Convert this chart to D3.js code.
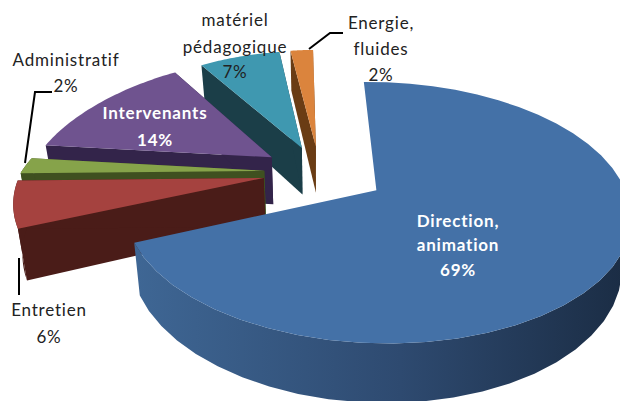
<!DOCTYPE html>
<html>
<head>
<meta charset="utf-8">
<script src="https://cdn.jsdelivr.net/npm/d3@7"></script>
<style>
html, body { margin: 0; padding: 0; background: #fff; }
text { font-family: Lato, "Open Sans", sans-serif; text-anchor: middle; letter-spacing: 0.8px; }
</style>
</head>
<body>
<div id="chart"></div>
<script>
const categories = ['Direction, animation', 'Entretien', 'Administratif', 'Intervenants', 'matériel pédagogique', 'Energie, fluides'];
const values = [69, 6, 2, 14, 7, 2];
const topColors = ['#4471a7', '#a5423f', '#86a34a', '#6f538f', '#3f98b0', '#db843d'];
const sideColors = ['#2f4c73', '#4a1c18', '#3f5020', '#33244a', '#1b3e48', '#6a3c14'];
const explode = [0.27, 0.235, 0.23, 0.24, 0.22, 0.22];

const width = 620;
const height = 401;
const centerX = 320;
const centerY = 172;
const radius = 243;
const tilt = 120.7;
const camera = 5.95;
const depth = 48;

const svg = d3.select('#chart')
    .append('svg')
    .attr('width', width)
    .attr('height', height);

const defs = svg.append('defs');
const sideGradient = defs.append('linearGradient')
    .attr('id', 'blueSide')
    .attr('gradientUnits', 'userSpaceOnUse')
    .attr('x1', 130).attr('x2', 622).attr('y1', 0).attr('y2', 0);
sideGradient.append('stop').attr('offset', '0%').attr('stop-color', '#3f6795');
sideGradient.append('stop').attr('offset', '55%').attr('stop-color', '#2e4a70');
sideGradient.append('stop').attr('offset', '100%').attr('stop-color', '#1b2d45');

// flat pie point -> screen, with a bit of perspective
function project(x, p, drop, i) {
    const s = camera / (camera - p);
    // back slices narrow faster, lower edge pulls in toward the middle
    const narrow = (i !== 0 && p < 0) ? Math.pow(s, 1.6) : s;
    const sx = narrow * (1 - 0.03 * drop / depth);
    return [centerX + x * radius * sx, centerY + p * tilt * s + drop * s];
}

const pie = d3.pie().sort(null).startAngle(-0.02).endAngle(2 * Math.PI - 0.02);
const arcs = pie(values);
const line = d3.line();

function sliceAngles(d) {
    return d3.range(0, 41).map(k => d.startAngle + (d.endAngle - d.startAngle) * k / 40);
}

function slicePoints(angles, d, i, drop) {
    const mid = (d.startAngle + d.endAngle) / 2;
    const ox = Math.sin(mid) * explode[i];
    const op = -Math.cos(mid) * explode[i];
    return {
        apex: project(ox, op, drop, i),
        rim: angles.map(a => project(ox + Math.sin(a), op - Math.cos(a), drop, i))
    };
}

// back slices first, the big one last
const order = d3.range(values.length).reverse();

order.forEach(i => {
    const d = arcs[i];
    const angles = sliceAngles(d);
    const top = slicePoints(angles, d, i, 0);
    const bottom = slicePoints(angles, d, i, depth);
    const g = svg.append('g').attr('class', 'slice');
    const last = top.rim.length - 1;

    // the big slice hides its own cut faces
    if (i !== 0) {
        [0, last].forEach(k => {
            g.append('path')
                .attr('d', line([top.apex, top.rim[k], bottom.rim[k], bottom.apex]) + 'Z')
                .attr('fill', sideColors[i]);
        });
    }

    // outer wall, only where it turns toward the viewer
    const front = angles.filter(a => Math.cos(a) < 0.1);
    if (front.length > 1) {
        const upper = slicePoints(front, d, i, 0).rim;
        const lower = slicePoints(front, d, i, depth).rim;
        g.append('path')
            .attr('d', line(upper.concat(lower.slice().reverse())) + 'Z')
            .attr('fill', i === 0 ? 'url(#blueSide)' : sideColors[i]);
    }

    g.append('path')
        .attr('d', line([top.apex].concat(top.rim)) + 'Z')
        .attr('fill', topColors[i]);
});

const leaders = [
    [[52, 92], [35, 92], [25, 163]],
    [[343, 33], [330, 33], [309, 49]],
    [[19, 258], [19, 295]]
];
svg.selectAll('.leader')
    .data(leaders)
    .enter()
    .append('path')
    .attr('class', 'leader')
    .attr('d', d => line(d))
    .attr('fill', 'none')
    .attr('stroke', '#000')
    .attr('stroke-width', 2);

const labelRows = [
    { i: 0, lines: ['Direction,', 'animation', '69%'], x: 458, y: [227, 251, 276], fill: '#fff', weight: 700 },
    { i: 1, lines: ['Entretien', '6%'], x: 49, y: [316, 343], fill: '#222', weight: 400 },
    { i: 2, lines: ['Administratif', '2%'], x: 66, y: [66, 92], fill: '#222', weight: 400 },
    { i: 3, lines: ['Intervenants', '14%'], x: 155, y: [119, 146], fill: '#fff', weight: 700 },
    { i: 4, lines: ['matériel', 'pédagogique', '7%'], x: 235, y: [26, 53, 78], fill: '#222', weight: 400 },
    { i: 5, lines: ['Energie,', 'fluides', '2%'], x: 381, y: [29, 55, 81], fill: '#222', weight: 400 }
];

labelRows.forEach(row => {
    row.lines.forEach((t, k) => {
        svg.append('text')
            .attr('x', row.x)
            .attr('y', row.y[k])
            .attr('font-size', 17)
            .attr('font-weight', row.weight)
            .attr('fill', row.fill)
            .text(t);
    });
});
</script>
</body>
</html>
